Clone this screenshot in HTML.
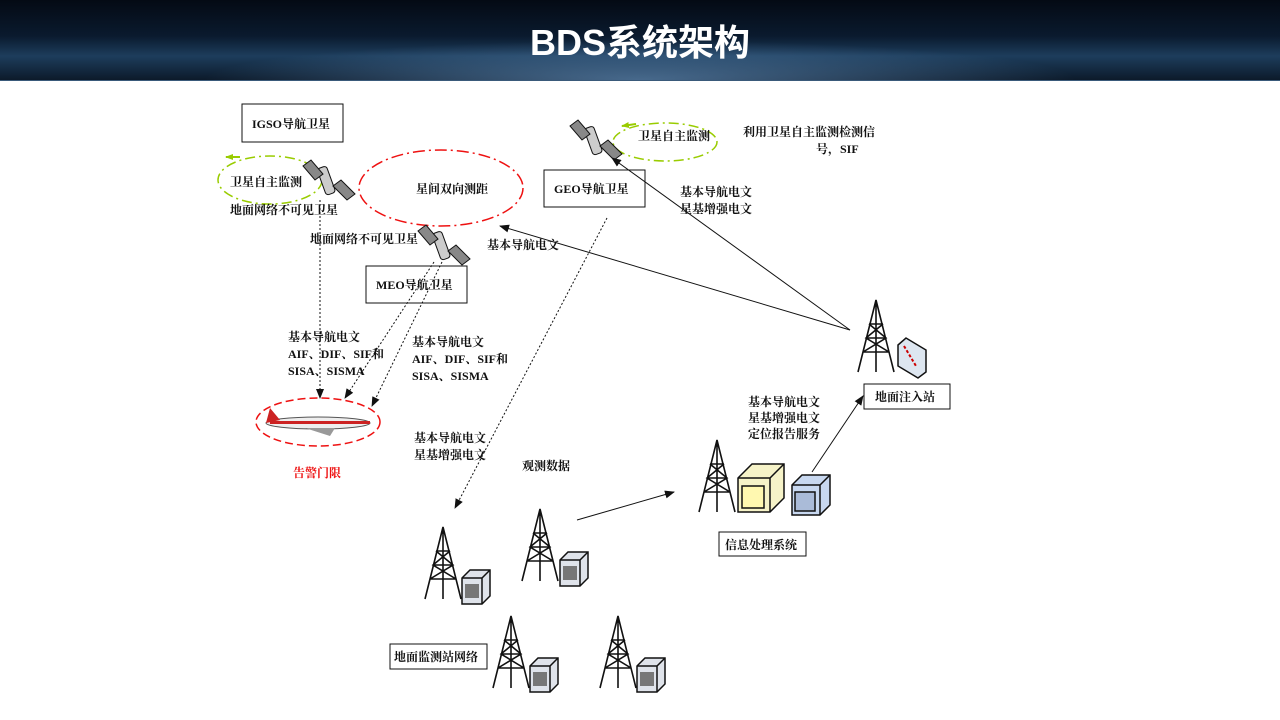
<!DOCTYPE html>
<html><head><meta charset="utf-8"><style>
html,body{margin:0;padding:0;background:#fff;}
#w{position:relative;width:1280px;height:720px;overflow:hidden;font-family:"Liberation Serif","Noto Serif CJK SC",serif;}
#hdr{position:absolute;left:0;top:0;width:1280px;height:80px;background:linear-gradient(180deg,#040a14 0%,#0a1a2e 45%,#1d3d5c 70%,#0c1a2a 100%);border-bottom:1px solid #3a5a7a;}
#hdr .glow{position:absolute;left:200px;top:40px;width:880px;height:40px;background:radial-gradient(ellipse at 50% 100%,rgba(120,170,220,.55),rgba(40,80,130,0) 70%);}
#hdr h1{position:absolute;left:0;width:1280px;top:14px;margin:0;text-align:center;color:#fff;font:bold 36px "Liberation Sans","Noto Sans CJK SC",sans-serif;}
svg{position:absolute;left:0;top:0;}
text{font-family:"Liberation Serif","Noto Serif CJK SC",serif;font-size:12px;font-weight:bold;fill:#111;}
</style></head><body><div id="w">
<div id="hdr"><div class="glow"></div><h1>BDS系统架构</h1></div>
<svg width="1280" height="720" viewBox="0 0 1280 720">
<defs>
<g id="tw" stroke="#111" stroke-width="1.6" fill="none">
<path d="M0 72 L18 0 L36 72 M5 52 L31 52 M8 38 L28 38 M11 24 L25 24 M5 52 L28 38 L11 24 M31 52 L8 38 L25 24 M18 0 L18 72"/>
</g>
<g id="box"><path d="M0 8 L8 0 L28 0 L28 26 L20 34 L0 34 Z" fill="#dfe3ea" stroke="#111" stroke-width="1.5"/><path d="M0 8 L20 8 L28 0 M20 8 L20 34" stroke="#111" fill="none" stroke-width="1.5"/><rect x="3" y="14" width="14" height="14" fill="#777"/></g>
<g id="sat"><g transform="rotate(-20)"><rect x="-4" y="-13" width="10" height="28" rx="3" fill="#ccc" stroke="#111"/></g><path d="M-22 -14 L-14 -20 L-2 -6 L-10 0 Z M8 6 L16 0 L30 14 L22 20 Z" fill="#888" stroke="#111"/></g>
<marker id="ar" markerWidth="10" markerHeight="8" refX="9" refY="4" orient="auto"><path d="M0 0 L10 4 L0 8 Z" fill="#111"/></marker>
<marker id="ga" markerWidth="8" markerHeight="6" refX="7" refY="3" orient="auto" markerUnits="userSpaceOnUse"><path d="M0 0 L8 3 L0 6 Z" fill="#9c0"/></marker>
</defs>
<g fill="#fff" stroke="#111" stroke-width="1">
<rect x="242" y="104" width="101" height="38"/>
<rect x="544" y="170" width="101" height="37"/>
<rect x="366" y="266" width="101" height="37"/>
<rect x="864" y="384" width="86" height="25"/>
<rect x="719" y="532" width="87" height="24"/>
<rect x="390" y="644" width="97" height="25"/>
</g>
<text x="252" y="128" font-size="13">IGSO导航卫星</text>
<text x="554" y="193" font-size="13">GEO导航卫星</text>
<text x="376" y="289" font-size="13">MEO导航卫星</text>
<text x="875" y="401">地面注入站</text>
<text x="725" y="549">信息处理系统</text>
<text x="394" y="661">地面监测站网络</text>
<ellipse cx="441" cy="188" rx="82" ry="38" fill="none" stroke="#e11" stroke-width="1.5" stroke-dasharray="12,4,2,4"/>
<ellipse cx="318" cy="422" rx="62" ry="24" fill="none" stroke="#e11" stroke-width="1.5" stroke-dasharray="8,4"/>
<ellipse cx="270" cy="180" rx="52" ry="24" fill="none" stroke="#9c0" stroke-width="1.5" stroke-dasharray="10,4,2,4"/>
<ellipse cx="665" cy="142" rx="52" ry="19" fill="none" stroke="#9c0" stroke-width="1.5" stroke-dasharray="10,4,2,4"/>
<path d="M240 157 L226 157" stroke="#9c0" stroke-width="2" marker-end="url(#ga)"/>
<path d="M636 124 L622 126" stroke="#9c0" stroke-width="2" marker-end="url(#ga)"/>
<text x="416" y="193">星间双向测距</text>
<text x="230" y="186" font-size="13">卫星自主监测</text>
<text x="230" y="214">地面网络不可见卫星</text>
<text x="310" y="243">地面网络不可见卫星</text>
<text x="638" y="140">卫星自主监测</text>
<text x="743" y="136">利用卫星自主监测检测信</text>
<text x="816" y="153">号，SIF</text>
<text x="680" y="196">基本导航电文</text>
<text x="680" y="213">星基增强电文</text>
<text x="487" y="249">基本导航电文</text>
<text x="288" y="341">基本导航电文</text>
<text x="288" y="358">AIF、DIF、SIF和</text>
<text x="288" y="375">SISA、SISMA</text>
<text x="412" y="346">基本导航电文</text>
<text x="412" y="363">AIF、DIF、SIF和</text>
<text x="412" y="380">SISA、SISMA</text>
<text x="414" y="442">基本导航电文</text>
<text x="414" y="459">星基增强电文</text>
<text x="522" y="470">观测数据</text>
<text x="748" y="406">基本导航电文</text>
<text x="748" y="422">星基增强电文</text>
<text x="748" y="438">定位报告服务</text>
<text x="293" y="477" style="fill:#e11">告警门限</text>
<use href="#sat" x="325" y="180"/>
<use href="#sat" x="440" y="245"/>
<use href="#sat" x="592" y="140"/>
<g><ellipse cx="318" cy="423" rx="52" ry="6" fill="#eee" stroke="#555"/><path d="M266 423 L270 408 L280 420 Z" fill="#c22"/><rect x="270" y="421" width="100" height="3" fill="#c22"/><path d="M305 428 L330 436 L335 428 Z" fill="#999"/></g>
<g stroke="#111" stroke-width="1" fill="none">
<path d="M320 200 L320 398" stroke-dasharray="2,2" marker-end="url(#ar)"/>
<path d="M434 262 L345 398" stroke-dasharray="2,2" marker-end="url(#ar)"/>
<path d="M442 262 L372 406" stroke-dasharray="2,2" marker-end="url(#ar)"/>
<path d="M607 218 L455 508" stroke-dasharray="2,2" marker-end="url(#ar)"/>
<path d="M850 330 L500 226" marker-end="url(#ar)"/>
<path d="M850 330 L612 158" marker-end="url(#ar)"/>
<path d="M577 520 L674 492" marker-end="url(#ar)"/>
<path d="M812 472 L863 396" marker-end="url(#ar)"/>
</g>
<use href="#tw" x="858" y="300"/>
<use href="#tw" x="699" y="440"/>
<use href="#tw" x="425" y="527"/>
<use href="#tw" x="522" y="509"/>
<use href="#tw" x="493" y="616"/>
<use href="#tw" x="600" y="616"/>
<g><path d="M898 345 L906 338 L926 350 L926 372 L918 378 L898 366 Z" fill="#dde6f0" stroke="#111" stroke-width="1.5"/><path d="M904 346 L916 366" stroke="#c00" stroke-width="2" stroke-dasharray="3,2"/></g>
<use href="#box" x="462" y="570"/>
<use href="#box" x="560" y="552"/>
<use href="#box" x="530" y="658"/>
<use href="#box" x="637" y="658"/>
<g stroke="#111" stroke-width="1.5"><path d="M738 478 L752 464 L784 464 L784 498 L770 512 L738 512 Z" fill="#f6f3c8"/><path d="M738 478 L770 478 L784 464 M770 478 L770 512" fill="none"/><rect x="742" y="486" width="22" height="22" fill="#fff8b0"/></g>
<g stroke="#111" stroke-width="1.5"><path d="M792 485 L802 475 L830 475 L830 505 L820 515 L792 515 Z" fill="#c8d8f0"/><path d="M792 485 L820 485 L830 475 M820 485 L820 515" fill="none"/><rect x="795" y="492" width="20" height="19" fill="#aabbd8"/></g>
</svg>
</div></body></html>
